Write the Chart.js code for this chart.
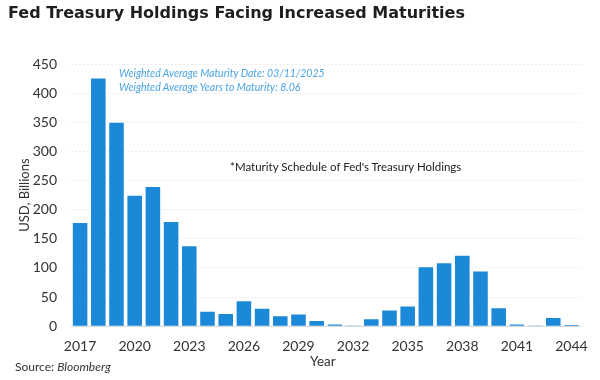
<!DOCTYPE html>
<html><head><meta charset="utf-8">
<script src="https://cdn.jsdelivr.net/npm/chart.js@4"></script>
<style>
html,body{margin:0;padding:0;background:#fff;}
#wrap{position:relative;width:600px;height:380px;overflow:hidden;}
#c{position:absolute;left:0;top:0;}
.t{position:absolute;white-space:nowrap;}
#title{left:8px;top:3px;font:bold 16px "DejaVu Sans";color:#1e1e1e;}
#ann1,#ann2{left:119px;font:italic 10.5px Lato;color:#4aa3e3;}
#ann1{top:67px}#ann2{top:81px}
#note{left:230px;top:160px;font:11.5px Lato;color:#222;}
#src{left:15px;top:359px;font:12px Lato;color:#333;}
#year{left:310px;top:353px;font:13.5px Lato;color:#333;}
</style></head><body>
<div id="wrap">
<canvas id="c" width="600" height="380"></canvas>
<div class="t" id="title">Fed Treasury Holdings Facing Increased Maturities</div>
<div class="t" id="ann1">Weighted Average Maturity Date: 03/11/2025</div>
<div class="t" id="ann2">Weighted Average Years to Maturity: 8.06</div>
<div class="t" id="note">*Maturity Schedule of Fed's Treasury Holdings</div>
<div class="t" id="src">Source: <i>Bloomberg</i></div>
<div class="t" id="year">Year</div>
</div>
<script>
const years = ["2017","2018","2019","2020","2021","2022","2023","2024","2025","2026","2027","2028","2029","2030","2031","2032","2033","2034","2035","2036","2037","2038","2039","2040","2041","2042","2043","2044"];
const holdings = [177,425,349,224,239,179,137,25,21,43,30,17,20,9,3,1,12,27,34,101,108,121,94,31,3,1,14,2];
const yTicks = [0,50,100,150,200,250,300,350,400,450];

new Chart(document.getElementById('c'), {
  type: 'bar',
  data: { labels: years, datasets: [{ data: holdings, backgroundColor: '#1b88d8', barPercentage: 0.8, categoryPercentage: 1.0 }] },
  options: {
    responsive: false, animation: false,
    layout: { padding: { left: 10, right: 16, top: 64, bottom: 13 } },
    plugins: { legend: { display: false }, tooltip: { enabled: false } },
    scales: {
      x: {
        grid: { display: false, drawTicks: false },
        border: { color: '#d9d9d9' },
        ticks: { autoSkip: false, maxRotation: 0, padding: 12, color: '#333', font: { family: 'Lato', size: 14 },
          callback: (v, i) => (i % 3 === 0 ? years[i] : '') }
      },
      y: {
        min: 0, max: 450,
        afterBuildTicks: (s) => { s.ticks = yTicks.map(v => ({ value: v })); },
        afterFit: (a) => { a.width = 61; },
        grid: { color: '#ececec', drawTicks: false },
        border: { display: false, dash: [2, 2] },
        ticks: { padding: 14, color: '#333', font: { family: 'Lato', size: 14 } },
        title: { display: true, text: 'USD, Billions', color: '#333', font: { family: 'Lato', size: 13 }, padding: { top: 7, bottom: 0 } }
      }
    }
  }
});
</script>
</body></html>
